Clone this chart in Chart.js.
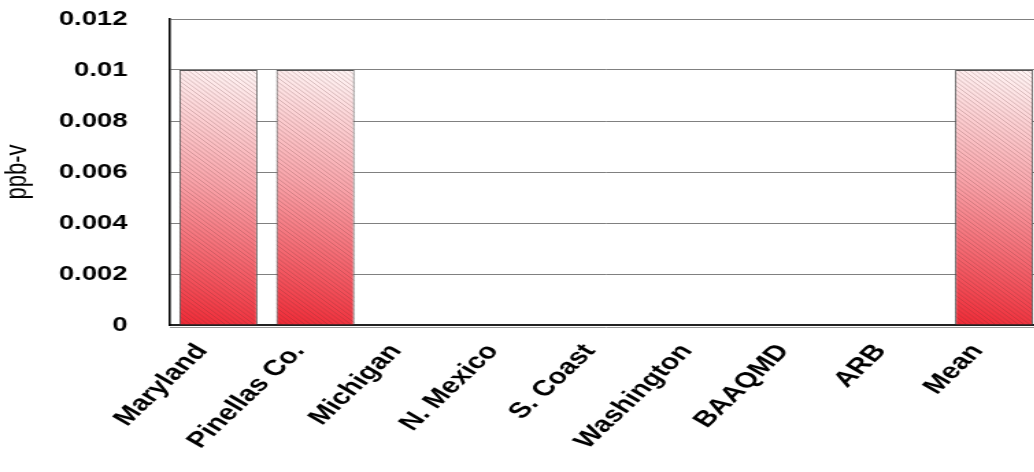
<!DOCTYPE html>
<html lang="en">
<head>
    <meta charset="UTF-8">
    <title>ppb-v by Site</title>
    <style>
        body {
            margin: 0;
            padding: 0;
            background: white;
            overflow: hidden;
        }
        /* the reference is a horizontally stretched picture, so stretch the canvas the same way */
        .stretch {
            width: 761px;
            height: 472px;
            transform: scaleX(1.37);
            transform-origin: 0 0;
        }
        #chart {
            display: block;
        }
    </style>
</head>
<body>
    <div class="stretch">
        <canvas id="chart" width="761" height="472"></canvas>
    </div>

    <script src="https://cdn.jsdelivr.net/npm/chart.js"></script>
    <script>
        // data
        const sites = ['Maryland', 'Pinellas Co.', 'Michigan', 'N. Mexico', 'S. Coast', 'Washington', 'BAAQMD', 'ARB', 'Mean'];
        const values = [0.01, 0.01, 0, 0, 0, 0, 0, 0, 0.01];
        const yTicks = [0, 0.002, 0.004, 0.006, 0.008, 0.01, 0.012];

        const barPct = 0.805;

        // pink-to-red fill, lighter at the top right of each bar
        function barFill(context) {
            const chart = context.chart;
            const area = chart.chartArea;
            if (!area) return '#f06070';
            const xs = chart.scales.x;
            const i = context.dataIndex;
            const w = (xs.getPixelForValue(1) - xs.getPixelForValue(0)) * barPct;
            const cx = xs.getPixelForValue(i);
            const top = chart.scales.y.getPixelForValue(values[i]);
            const g = chart.ctx.createLinearGradient(cx + w / 2, top, cx - w / 2, area.bottom);
            g.addColorStop(0, '#fff6f6');
            g.addColorStop(0.45, '#f9a4aa');
            g.addColorStop(1, '#ef2a36');
            return g;
        }

        // thin diagonal hatch over each bar, plus the grey shadow under the zero line
        const hatch = {
            id: 'hatch',
            afterDatasetsDraw(chart) {
                const ctx = chart.ctx;
                const meta = chart.getDatasetMeta(0);
                meta.data.forEach(bar => {
                    const p = bar.getProps(['x', 'y', 'base', 'width']);
                    const h = p.base - p.y;
                    if (h < 1) return;
                    const left = p.x - p.width / 2;
                    ctx.save();
                    ctx.beginPath();
                    ctx.rect(left, p.y, p.width, h);
                    ctx.clip();
                    ctx.strokeStyle = 'rgba(90, 50, 50, 0.3)';
                    ctx.lineWidth = 0.8;
                    ctx.beginPath();
                    for (let s = -h; s < p.width; s += 4.2) {
                        ctx.moveTo(left + s, p.y);
                        ctx.lineTo(left + s + h, p.base);
                    }
                    ctx.stroke();
                    ctx.restore();
                });
                const a = chart.chartArea;
                ctx.save();
                ctx.strokeStyle = '#9a9a9a';
                ctx.lineWidth = 1;
                ctx.beginPath();
                ctx.moveTo(a.left, a.bottom + 2.5);
                ctx.lineTo(a.right, a.bottom + 2.5);
                ctx.stroke();
                ctx.restore();
            }
        };

        new Chart(document.getElementById('chart'), {
            type: 'bar',
            data: {
                labels: sites,
                datasets: [{
                    data: values,
                    backgroundColor: barFill,
                    borderColor: '#555',
                    borderWidth: 1,
                    barPercentage: barPct,
                    categoryPercentage: 1
                }]
            },
            options: {
                responsive: false,
                animation: false,
                layout: { padding: { top: 19, right: 0, left: 0, bottom: 0 } },
                plugins: {
                    legend: { display: false },
                    tooltip: { enabled: false }
                },
                scales: {
                    x: {
                        grid: { display: false, drawTicks: false },
                        border: { display: true, color: '#222', width: 2 },
                        ticks: {
                            minRotation: 52,
                            maxRotation: 52,
                            padding: 14,
                            labelOffset: -12,
                            color: '#000',
                            font: { family: 'Arial, "Liberation Sans"', size: 22, weight: 'bold' }
                        },
                        afterFit(scale) { scale.height = 147; }
                    },
                    y: {
                        min: 0,
                        max: 0.012,
                        afterBuildTicks(scale) {
                            scale.ticks = yTicks.map(v => ({ value: v }));
                        },
                        grid: { color: '#808080', lineWidth: 1, drawTicks: true, tickLength: 28, tickColor: 'rgba(0,0,0,0)' },
                        border: { display: true, color: '#000', width: 1.6 },
                        ticks: {
                            padding: 3,
                            color: '#000',
                            font: { family: 'Arial, "Liberation Sans"', size: 20, weight: 'bold' },
                            callback: v => String(Number(v.toFixed(3)))
                        },
                        title: {
                            display: true,
                            text: 'ppb-v',
                            color: '#000',
                            padding: { top: 0, bottom: 0 },
                            font: { family: 'Arial, "Liberation Sans"', size: 22 }
                        },
                        afterFit(scale) { scale.width = 124; }
                    }
                }
            },
            plugins: [hatch]
        });
    </script>
</body>
</html>
